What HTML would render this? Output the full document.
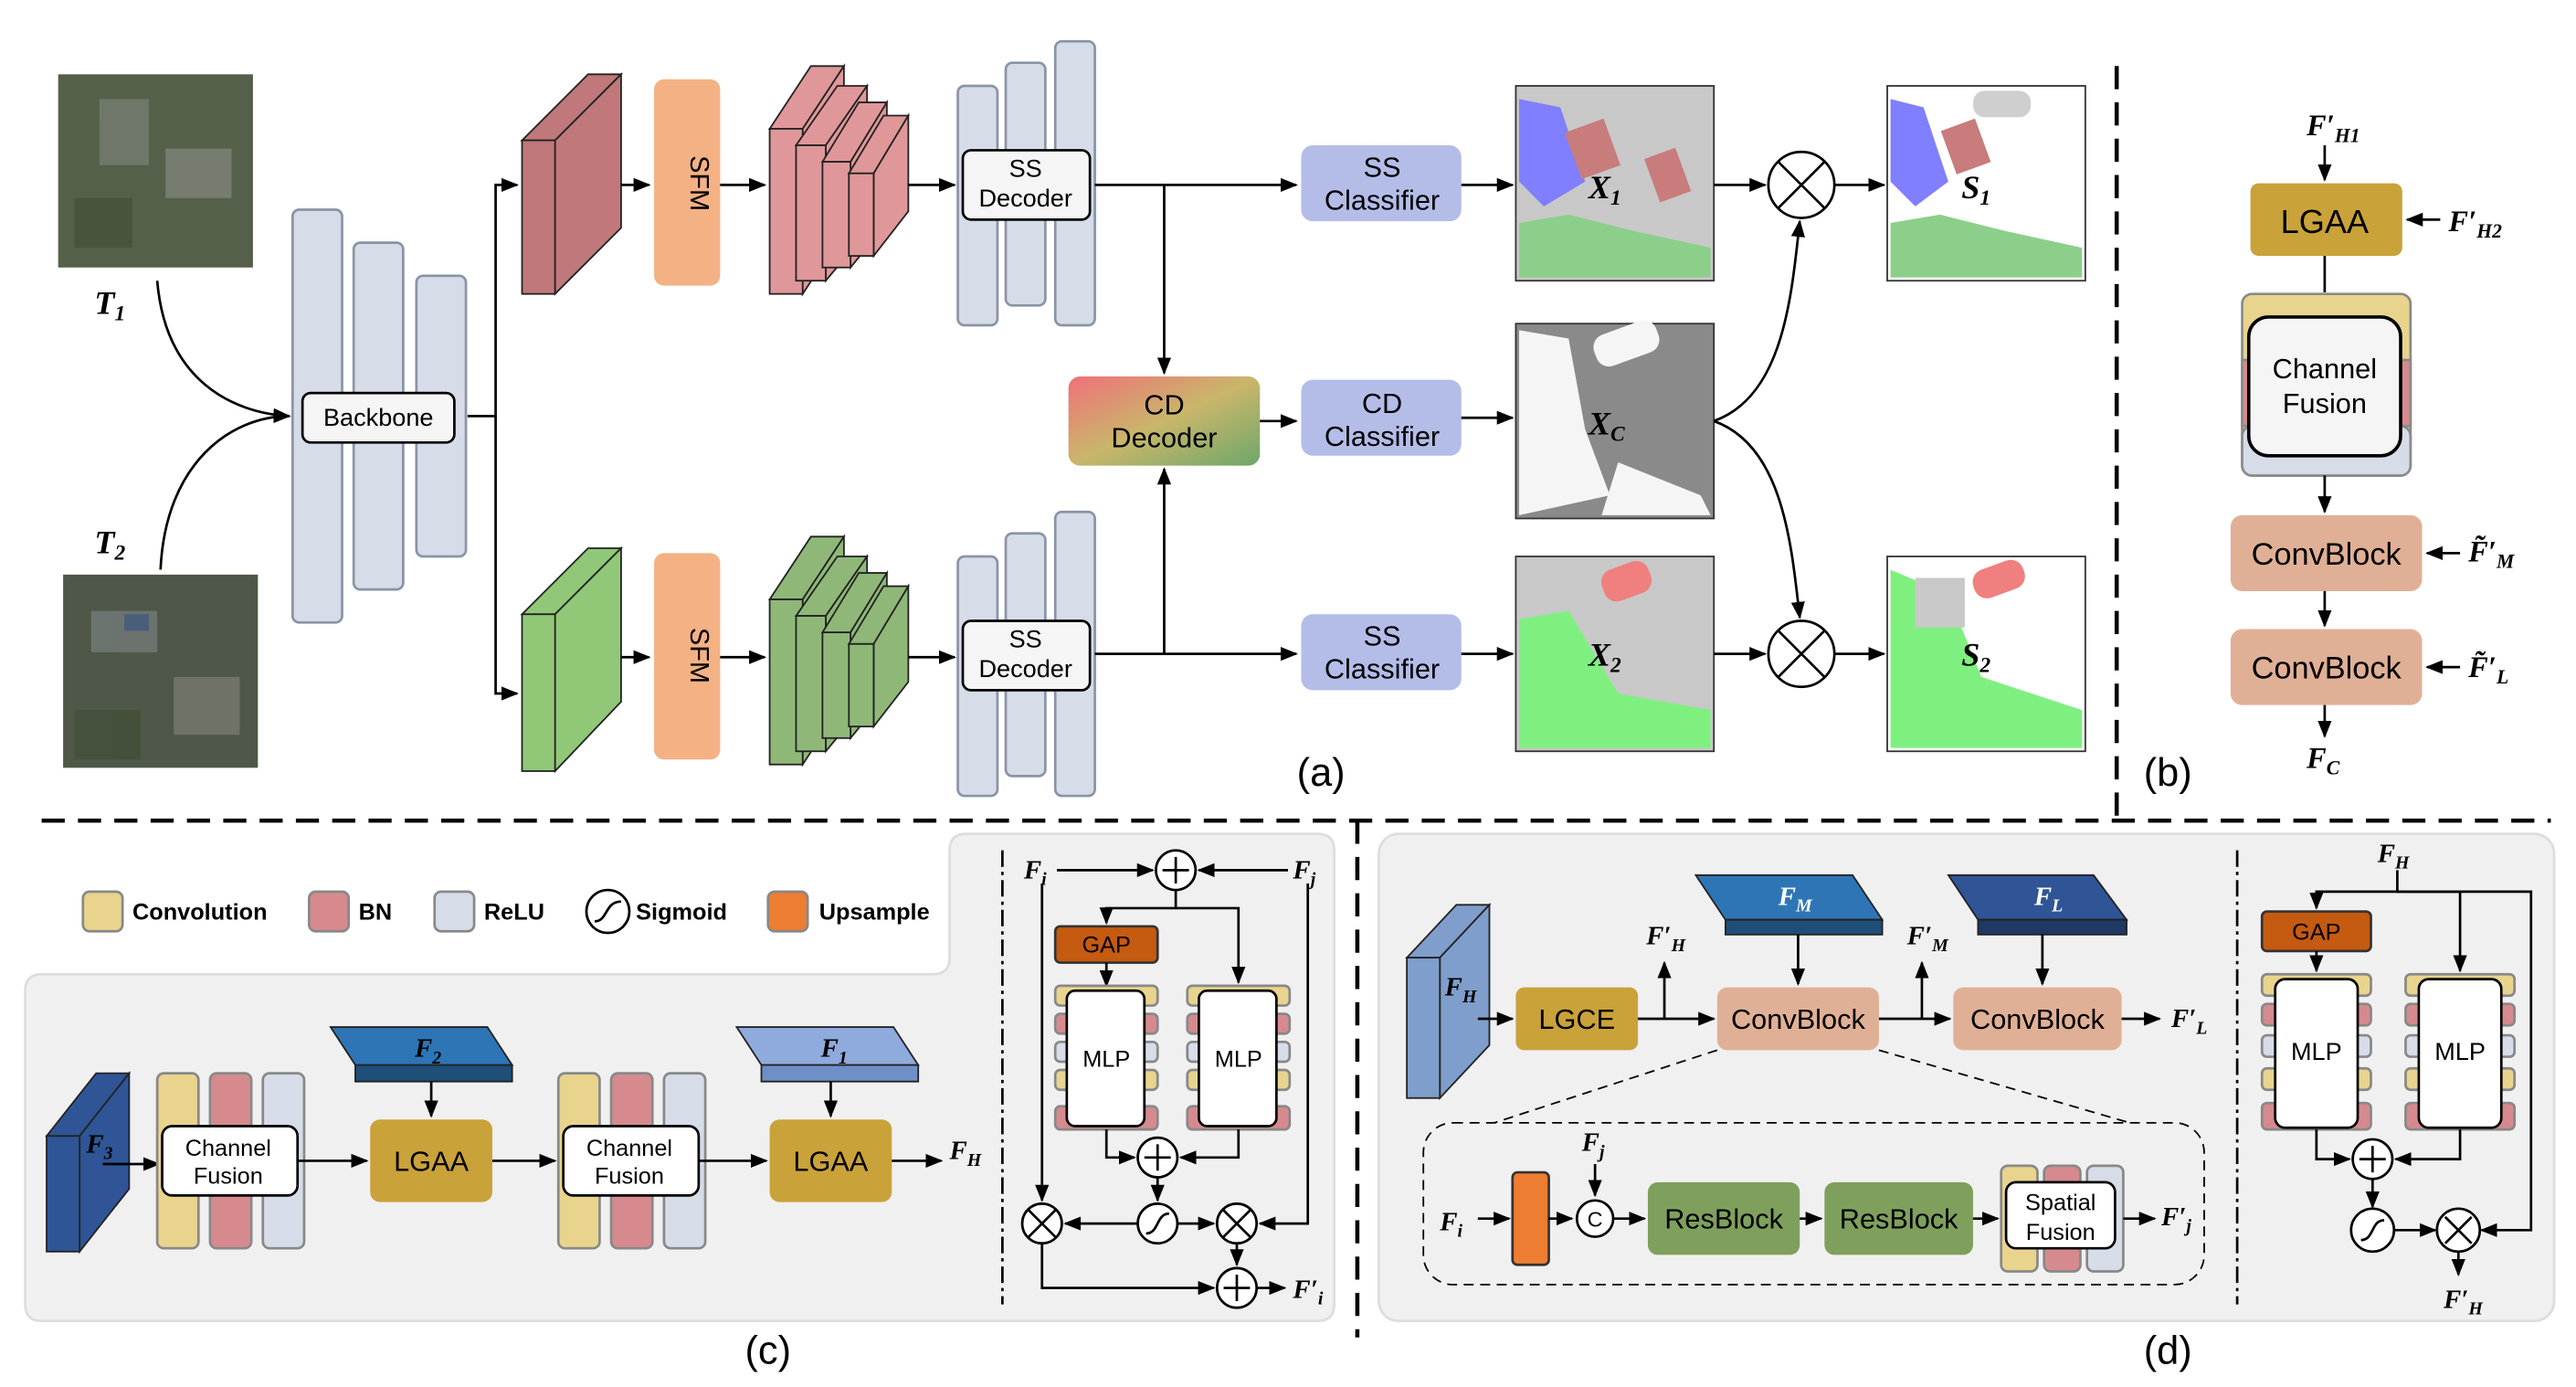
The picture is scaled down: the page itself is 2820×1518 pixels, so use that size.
<!DOCTYPE html>
<html><head><meta charset="utf-8"><style>
html,body{margin:0;padding:0;background:#fff;}
svg{display:block;}
text{font-family:"Liberation Sans",sans-serif;}
.m text{font-family:"Liberation Serif",serif;font-style:italic;font-weight:bold;}
</style></head><body>
<svg width="2820" height="1518" viewBox="0 0 1560 840" xmlns="http://www.w3.org/2000/svg">
<defs>
<marker id="a" viewBox="0 0 10 10" refX="9" refY="5" markerWidth="7" markerHeight="7" orient="auto"><path d="M0,1 L10,5 L0,9 z" fill="#000"/></marker>
<linearGradient id="cd" x1="0" y1="0" x2="1" y2="1"><stop offset="0" stop-color="#f0707a"/><stop offset="0.5" stop-color="#c9b66a"/><stop offset="1" stop-color="#6ea76a"/></linearGradient>
</defs>
<g stroke="#000" stroke-width="1.5" fill="none">
<rect x="35" y="45" width="118" height="117" fill="#55604a" stroke="none"/>
<rect x="38" y="348" width="118" height="117" fill="#4f5848" stroke="none"/>
<g stroke="none" opacity="0.5">
<rect x="60" y="60" width="30" height="40" fill="#8a8f86"/><rect x="100" y="90" width="40" height="30" fill="#9a9a92"/><rect x="45" y="120" width="35" height="30" fill="#3c4a30"/>
<rect x="55" y="370" width="40" height="25" fill="#8a8f96"/><rect x="75" y="372" width="15" height="10" fill="#4466aa"/><rect x="105" y="410" width="40" height="35" fill="#8f8f86"/><rect x="45" y="430" width="40" height="30" fill="#3c4a30"/>
</g>
<path d="M95,170 C100,230 140,250 175,252" marker-end="url(#a)"/>
<path d="M97,345 C100,280 140,252 175,252" marker-end="url(#a)"/>
<rect x="177" y="127" width="30" height="250" rx="4" fill="#d6dce8" stroke="#8a94a6"/>
<rect x="214" y="147" width="30" height="210" rx="4" fill="#d6dce8" stroke="#8a94a6"/>
<rect x="252" y="167" width="30" height="170" rx="4" fill="#d6dce8" stroke="#8a94a6"/>
<rect x="183" y="238" width="92" height="30" rx="5" fill="#f5f5f5"/>
<path d="M283,252 H300 V112 H313" marker-end="url(#a)"/>
<path d="M300,252 V420 H313" marker-end="url(#a)"/>
<g fill="#c0787a" stroke="#222" stroke-width="1">
<polygon points="316,85 356,45 376,45 336,85"/><polygon points="336,85 376,45 376,138 336,178"/><rect x="316" y="85" width="20" height="93"/>
</g>
<g fill="#90c878" stroke="#222" stroke-width="1">
<polygon points="316,372 356,332 376,332 336,372"/><polygon points="336,372 376,332 376,425 336,467"/><rect x="316" y="372" width="20" height="95"/>
</g>
<path d="M376,112 H393" marker-end="url(#a)"/><path d="M376,398 H393" marker-end="url(#a)"/>
<rect x="396" y="48" width="40" height="125" rx="6" fill="#f4b183" stroke="none"/>
<rect x="396" y="335" width="40" height="125" rx="6" fill="#f4b183" stroke="none"/>
<path d="M436,112 H463" marker-end="url(#a)"/><path d="M436,398 H463" marker-end="url(#a)"/>
<g fill="#e0979a" stroke="#222" stroke-width="1">
<polygon points="466,78 491,40 511,40 486,78"/><polygon points="486,78 511,40 511,140 486,178"/><rect x="466" y="78" width="20" height="100"/>
<polygon points="482,88 507,52 525,52 500,88"/><polygon points="500,88 525,52 525,140 500,170"/><rect x="482" y="88" width="18" height="82"/>
<polygon points="498,98 520,62 537,62 515,98"/><polygon points="515,98 537,62 537,135 515,162"/><rect x="498" y="98" width="17" height="64"/>
<polygon points="514,105 535,70 550,70 529,105"/><polygon points="529,105 550,70 550,128 529,155"/><rect x="514" y="105" width="15" height="50"/>
</g>
<g fill="#8fb878" stroke="#222" stroke-width="1">
<polygon points="466,363 491,325 511,325 486,363"/><polygon points="486,363 511,325 511,425 486,463"/><rect x="466" y="363" width="20" height="100"/>
<polygon points="482,373 507,337 525,337 500,373"/><polygon points="500,373 525,337 525,425 500,455"/><rect x="482" y="373" width="18" height="82"/>
<polygon points="498,383 520,347 537,347 515,383"/><polygon points="515,383 537,347 537,420 515,447"/><rect x="498" y="383" width="17" height="64"/>
<polygon points="514,390 535,355 550,355 529,390"/><polygon points="529,390 550,355 550,413 529,440"/><rect x="514" y="390" width="15" height="50"/>
</g>
<path d="M550,112 H578" marker-end="url(#a)"/><path d="M550,398 H578" marker-end="url(#a)"/>
<g fill="#d6dce8" stroke="#8a94a6">
<rect x="580" y="52" width="24" height="145" rx="4"/><rect x="609" y="38" width="24" height="147" rx="4"/><rect x="639" y="25" width="24" height="172" rx="4"/>
<rect x="580" y="337" width="24" height="145" rx="4"/><rect x="609" y="323" width="24" height="147" rx="4"/><rect x="639" y="310" width="24" height="172" rx="4"/>
</g>
<rect x="583" y="91" width="77" height="42" rx="5" fill="#f5f5f5"/>
<rect x="583" y="376" width="77" height="42" rx="5" fill="#f5f5f5"/>
<path d="M663,112 H785" marker-end="url(#a)"/><path d="M663,396 H785" marker-end="url(#a)"/>
<path d="M705,112 V226" marker-end="url(#a)"/><path d="M705,396 V284" marker-end="url(#a)"/>
<rect x="647" y="228" width="116" height="54" rx="7" fill="url(#cd)" stroke="none"/>
<path d="M763,255 H785" marker-end="url(#a)"/>
<g fill="#b4bde8" stroke="none">
<rect x="788" y="88" width="97" height="46" rx="7"/><rect x="788" y="230" width="97" height="46" rx="7"/><rect x="788" y="372" width="97" height="46" rx="7"/>
</g>
<path d="M885,112 H916" marker-end="url(#a)"/><path d="M885,253 H916" marker-end="url(#a)"/><path d="M885,396 H916" marker-end="url(#a)"/>
<g stroke="#333" stroke-width="1">
<rect x="918" y="52" width="120" height="118" fill="#c8c8c8"/>
<rect x="918" y="196" width="120" height="118" fill="#8a8a8a"/>
<rect x="918" y="337" width="120" height="118" fill="#c8c8c8"/>
<rect x="1143" y="52" width="120" height="118" fill="#fff"/>
<rect x="1143" y="337" width="120" height="118" fill="#fff"/>
</g>
<g stroke="none">
<polygon points="920,60 945,65 960,110 935,125 920,110" fill="#7f7fff"/>
<polygon points="920,135 950,130 990,140 1036,150 1036,168 920,168" fill="#8ccf8a"/>
<rect x="952" y="75" width="25" height="30" fill="#c87c7c" transform="rotate(-20 965 90)"/>
<rect x="1000" y="92" width="20" height="28" fill="#c87c7c" transform="rotate(-20 1010 106)"/>
<polygon points="920,200 950,205 960,260 975,300 920,312" fill="#f5f5f5"/>
<rect x="965" y="198" width="40" height="20" fill="#f5f5f5" rx="8" transform="rotate(-20 985 208)"/>
<polygon points="980,280 1030,300 1036,312 970,312" fill="#f5f5f5"/>
<polygon points="920,375 950,370 980,420 1036,430 1036,453 920,453" fill="#7ff07f"/>
<rect x="970" y="342" width="30" height="20" rx="8" fill="#f07f7f" transform="rotate(-20 985 352)"/>
<polygon points="1145,60 1165,65 1180,110 1160,125 1145,110" fill="#7f7fff"/>
<polygon points="1145,135 1175,130 1215,140 1261,150 1261,168 1145,168" fill="#8ccf8a"/>
<rect x="1180" y="75" width="22" height="28" fill="#c87c7c" transform="rotate(-20 1190 90)"/>
<rect x="1195" y="55" width="35" height="16" rx="7" fill="#cfcfcf"/>
<polygon points="1145,345 1180,360 1200,410 1261,430 1261,453 1145,453" fill="#7ff07f"/>
<rect x="1195" y="342" width="32" height="18" rx="8" fill="#f07f7f" transform="rotate(-20 1210 352)"/>
<rect x="1160" y="350" width="30" height="30" fill="#c8c8c8"/>
</g>
<circle cx="1091" cy="112" r="20" fill="#fff"/><circle cx="1091" cy="396" r="20" fill="#fff"/>
<path d="M1077,98 L1105,126 M1105,98 L1077,126 M1077,382 L1105,410 M1105,382 L1077,410"/>
<path d="M1038,112 H1069" marker-end="url(#a)"/><path d="M1111,112 H1141" marker-end="url(#a)"/>
<path d="M1038,396 H1069" marker-end="url(#a)"/><path d="M1111,396 H1141" marker-end="url(#a)"/>
<path d="M1038,255 C1080,240 1085,180 1090,134" marker-end="url(#a)"/>
<path d="M1038,255 C1080,270 1085,330 1090,374" marker-end="url(#a)"/>
<path d="M1282,40 V497 M25,497 H1545 M822,497 V810" stroke-dasharray="14,8" stroke-width="2.5"/>
<path d="M1408,88 V109" marker-end="url(#a)"/>
<rect x="1363" y="111" width="92" height="44" rx="5" fill="#c9a23a" stroke="none"/>
<path d="M1478,133 H1458" marker-end="url(#a)"/>
<path d="M1408,155 V177"/>
<rect x="1358" y="178" width="102" height="110" rx="6" fill="#e8d48c" stroke="#8a8a8a"/>
<rect x="1358" y="218" width="102" height="40" fill="#d68a8e" stroke="#8a8a8a"/>
<rect x="1358" y="258" width="102" height="30" rx="6" fill="#d6dce8" stroke="#8a8a8a"/>
<rect x="1362" y="192" width="92" height="84" rx="12" fill="#f5f5f5" stroke-width="2"/>
<path d="M1408,288 V310" marker-end="url(#a)"/>
<rect x="1351" y="312" width="116" height="46" rx="7" fill="#e0b096" stroke="none"/>
<path d="M1408,358 V379" marker-end="url(#a)"/>
<rect x="1351" y="381" width="116" height="46" rx="7" fill="#e0b096" stroke="none"/>
<path d="M1408,427 V446" marker-end="url(#a)"/>
<path d="M1490,335 H1470" marker-end="url(#a)"/><path d="M1490,404 H1470" marker-end="url(#a)"/>
<path d="M575,515 Q575,505 585,505 H798 Q808,505 808,515 V790 Q808,800 798,800 H25 Q15,800 15,790 V600 Q15,590 25,590 H565 Q575,590 575,580 Z" fill="#f0f0f0" stroke="#ddd"/>
<rect x="50" y="540" width="24" height="24" rx="4" fill="#e8d48c" stroke="#888"/>
<rect x="187" y="540" width="24" height="24" rx="4" fill="#d68a8e" stroke="#888"/>
<rect x="263" y="540" width="24" height="24" rx="4" fill="#d6dce8" stroke="#888"/>
<circle cx="368" cy="552" r="13" fill="#fff"/><path d="M360,558 C368,558 366,546 376,546"/>
<rect x="465" y="540" width="24" height="24" rx="4" fill="#ed7d31" stroke="#888"/>
<g fill="#2f5597" stroke="#222" stroke-width="1">
<polygon points="28,688 58,650 78,650 48,688"/><polygon points="48,688 78,650 78,720 48,758"/><rect x="28" y="688" width="20" height="70"/>
</g>
<path d="M62,705 H96" marker-end="url(#a)"/>
<g stroke="#888">
<rect x="95" y="650" width="25" height="106" rx="4" fill="#e8d48c"/><rect x="127" y="650" width="25" height="106" rx="4" fill="#d68a8e"/><rect x="159" y="650" width="25" height="106" rx="4" fill="#d6dce8"/>
<rect x="338" y="650" width="25" height="106" rx="4" fill="#e8d48c"/><rect x="370" y="650" width="25" height="106" rx="4" fill="#d68a8e"/><rect x="402" y="650" width="25" height="106" rx="4" fill="#d6dce8"/>
</g>
<rect x="98" y="682" width="82" height="42" rx="6" fill="#fff"/>
<rect x="341" y="682" width="82" height="42" rx="6" fill="#fff"/>
<g stroke="#222" stroke-width="1">
<polygon points="200,622 295,622 310,645 215,645" fill="#2e75b6"/><polygon points="215,645 310,645 310,655 215,655" fill="#1f4e79"/>
<polygon points="446,622 541,622 556,645 461,645" fill="#8faadc"/><polygon points="461,645 556,645 556,655 461,655" fill="#6f8fc8"/>
</g>
<path d="M261,655 V676" marker-end="url(#a)"/><path d="M503,655 V676" marker-end="url(#a)"/>
<rect x="224" y="678" width="74" height="50" rx="6" fill="#c9a23a" stroke="none"/>
<rect x="466" y="678" width="74" height="50" rx="6" fill="#c9a23a" stroke="none"/>
<path d="M180,703 H222" marker-end="url(#a)"/><path d="M298,703 H336" marker-end="url(#a)"/>
<path d="M423,703 H464" marker-end="url(#a)"/><path d="M540,703 H570" marker-end="url(#a)"/>
<path d="M607,515 V790" stroke-dasharray="10,3,2,3"/>
<circle cx="712" cy="527" r="12" fill="#fff"/><path d="M704,527 H720 M712,519 V535"/>
<path d="M640,527 H698" marker-end="url(#a)"/><path d="M780,527 H726" marker-end="url(#a)"/>
<path d="M712,539 V550 H670 V559" marker-end="url(#a)"/><path d="M712,550 H750 V595" marker-end="url(#a)"/>
<rect x="639" y="561" width="62" height="22" rx="3" fill="#c55a11" stroke="#333"/>
<path d="M670,583 V597" marker-end="url(#a)"/>
<g stroke="#888">
<rect x="639" y="597" width="62" height="12" rx="3" fill="#e8d48c"/><rect x="639" y="614" width="62" height="12" rx="3" fill="#d68a8e"/><rect x="639" y="631" width="62" height="12" rx="3" fill="#d6dce8"/><rect x="639" y="648" width="62" height="12" rx="3" fill="#e8d48c"/><rect x="639" y="670" width="62" height="14" rx="3" fill="#d68a8e"/>
<rect x="719" y="597" width="62" height="12" rx="3" fill="#e8d48c"/><rect x="719" y="614" width="62" height="12" rx="3" fill="#d68a8e"/><rect x="719" y="631" width="62" height="12" rx="3" fill="#d6dce8"/><rect x="719" y="648" width="62" height="12" rx="3" fill="#e8d48c"/><rect x="719" y="670" width="62" height="14" rx="3" fill="#d68a8e"/>
</g>
<rect x="646" y="600" width="47" height="82" rx="5" fill="#fff"/>
<rect x="726" y="600" width="47" height="82" rx="5" fill="#fff"/>
<path d="M670,684 V701 H687" marker-end="url(#a)"/><path d="M750,684 V701 H715" marker-end="url(#a)"/>
<circle cx="701" cy="701" r="12" fill="#fff"/><path d="M693,701 H709 M701,693 V709"/>
<path d="M701,713 V727" marker-end="url(#a)"/>
<circle cx="701" cy="741" r="12" fill="#fff"/><path d="M694,747 C702,747 700,735 708,735"/>
<circle cx="631" cy="741" r="12" fill="#fff"/><path d="M623,733 L639,749 M639,733 L623,749"/>
<circle cx="749" cy="741" r="12" fill="#fff"/><path d="M741,733 L757,749 M757,733 L741,749"/>
<path d="M689,741 H645" marker-end="url(#a)"/><path d="M713,741 H735" marker-end="url(#a)"/>
<path d="M631,535 V727" marker-end="url(#a)"/><path d="M792,535 V741 H763" marker-end="url(#a)"/>
<path d="M631,753 V780 H735" marker-end="url(#a)"/><path d="M749,753 V766" marker-end="url(#a)"/>
<circle cx="749" cy="780" r="12" fill="#fff"/><path d="M741,780 H757 M749,772 V788"/>
<path d="M761,780 H778" marker-end="url(#a)"/>
<rect x="835" y="505" width="712" height="295" rx="12" fill="#f0f0f0" stroke="#ddd"/>
<g fill="#7f9ecb" stroke="#222" stroke-width="1">
<polygon points="852,580 882,548 902,548 872,580"/><polygon points="872,580 902,548 902,633 872,665"/><rect x="852" y="580" width="20" height="85"/>
</g>
<path d="M895,617 H916" marker-end="url(#a)"/>
<rect x="918" y="598" width="74" height="38" rx="5" fill="#c9a23a" stroke="none"/>
<path d="M992,617 H1038" marker-end="url(#a)"/><path d="M1008,617 V583" marker-end="url(#a)"/>
<g stroke="#222" stroke-width="1">
<polygon points="1027,530 1122,530 1140,557 1045,557" fill="#2e75b6"/><polygon points="1045,557 1140,557 1140,566 1045,566" fill="#1f4e79"/>
<polygon points="1180,530 1268,530 1288,557 1198,557" fill="#2f5597"/><polygon points="1198,557 1288,557 1288,566 1198,566" fill="#1f3864"/>
</g>
<path d="M1089,566 V596" marker-end="url(#a)"/><path d="M1237,566 V596" marker-end="url(#a)"/>
<rect x="1040" y="598" width="98" height="38" rx="6" fill="#e0b096" stroke="none"/>
<rect x="1183" y="598" width="102" height="38" rx="6" fill="#e0b096" stroke="none"/>
<path d="M1138,617 H1181" marker-end="url(#a)"/><path d="M1164,617 V583" marker-end="url(#a)"/>
<path d="M1285,617 H1308" marker-end="url(#a)"/>
<path d="M1040,636 L905,680 M1138,636 L1290,680" stroke-dasharray="6,4" stroke-width="1"/>
<rect x="862" y="680" width="473" height="98" rx="18" fill="none" stroke-dasharray="6,4" stroke-width="1"/>
<path d="M895,738 H914" marker-end="url(#a)"/>
<rect x="916" y="710" width="22" height="56" rx="3" fill="#ed7d31" stroke="#333"/>
<path d="M938,738 H952" marker-end="url(#a)"/><path d="M966,705 V724" marker-end="url(#a)"/>
<circle cx="966" cy="738" r="11" fill="#fff"/>
<path d="M977,738 H996" marker-end="url(#a)"/>
<rect x="998" y="716" width="92" height="44" rx="6" fill="#7fa05c" stroke="none"/>
<path d="M1090,738 H1103" marker-end="url(#a)"/>
<rect x="1105" y="716" width="90" height="44" rx="6" fill="#7fa05c" stroke="none"/>
<path d="M1195,738 H1210" marker-end="url(#a)"/>
<g stroke="#888"><rect x="1212" y="706" width="22" height="64" rx="4" fill="#e8d48c"/><rect x="1238" y="706" width="22" height="64" rx="4" fill="#d68a8e"/><rect x="1264" y="706" width="22" height="64" rx="4" fill="#d6dce8"/></g>
<rect x="1215" y="716" width="66" height="40" rx="6" fill="#fff"/>
<path d="M1286,738 H1305" marker-end="url(#a)"/>
<path d="M1355,515 V790" stroke-dasharray="10,3,2,3"/>
<path d="M1452,527 V540 H1403 V550" marker-end="url(#a)"/><path d="M1452,540 H1490 V588" marker-end="url(#a)"/><path d="M1452,540 H1533 V745 H1503" marker-end="url(#a)"/>
<rect x="1370" y="552" width="66" height="24" rx="3" fill="#c55a11" stroke="#333"/>
<path d="M1403,576 V588" marker-end="url(#a)"/>
<g stroke="#888">
<rect x="1370" y="590" width="66" height="13" rx="3" fill="#e8d48c"/><rect x="1370" y="608" width="66" height="13" rx="3" fill="#d68a8e"/><rect x="1370" y="627" width="66" height="13" rx="3" fill="#d6dce8"/><rect x="1370" y="647" width="66" height="13" rx="3" fill="#e8d48c"/><rect x="1370" y="668" width="66" height="16" rx="3" fill="#d68a8e"/>
<rect x="1457" y="590" width="66" height="13" rx="3" fill="#e8d48c"/><rect x="1457" y="608" width="66" height="13" rx="3" fill="#d68a8e"/><rect x="1457" y="627" width="66" height="13" rx="3" fill="#d6dce8"/><rect x="1457" y="647" width="66" height="13" rx="3" fill="#e8d48c"/><rect x="1457" y="668" width="66" height="16" rx="3" fill="#d68a8e"/>
</g>
<rect x="1378" y="593" width="50" height="90" rx="6" fill="#fff"/>
<rect x="1465" y="593" width="50" height="90" rx="6" fill="#fff"/>
<path d="M1403,684 V702 H1423" marker-end="url(#a)"/><path d="M1490,684 V702 H1451" marker-end="url(#a)"/>
<circle cx="1437" cy="702" r="12" fill="#fff"/><path d="M1429,702 H1445 M1437,694 V710"/>
<path d="M1437,714 V731" marker-end="url(#a)"/>
<circle cx="1437" cy="745" r="13" fill="#fff"/><path d="M1430,751 C1438,751 1436,739 1444,739"/>
<path d="M1450,745 H1475" marker-end="url(#a)"/>
<circle cx="1489" cy="745" r="13" fill="#fff"/><path d="M1481,737 L1497,753 M1497,737 L1481,753"/>
<path d="M1489,758 V772" marker-end="url(#a)"/>
</g>
<g font-size="15" text-anchor="middle" fill="#000">
<text x="229" y="258">Backbone</text>
<text x="621" y="107">SS</text><text x="621" y="125">Decoder</text>
<text x="621" y="392">SS</text><text x="621" y="410">Decoder</text>
<text x="416" y="111" font-size="16" transform="rotate(90 416 111)" dy="-2">SFM</text>
<text x="416" y="397" font-size="16" transform="rotate(90 416 397)" dy="-2">SFM</text>
<g font-size="17"><text x="705" y="251">CD</text><text x="705" y="271">Decoder</text>
<text x="837" y="107">SS</text><text x="837" y="127">Classifier</text>
<text x="837" y="250">CD</text><text x="837" y="270">Classifier</text>
<text x="837" y="391">SS</text><text x="837" y="411">Classifier</text></g>
<text x="1408" y="141" font-size="20">LGAA</text>
<text x="1408" y="229" font-size="17">Channel</text><text x="1408" y="250" font-size="17">Fusion</text>
<text x="1409" y="342" font-size="19">ConvBlock</text><text x="1409" y="411" font-size="19">ConvBlock</text>
<text x="800" y="476" font-size="24">(a)</text><text x="1313" y="476" font-size="24">(b)</text>
<text x="465" y="826" font-size="24">(c)</text><text x="1313" y="826" font-size="24">(d)</text>
<text x="138" y="700" font-size="14">Channel</text><text x="138" y="717" font-size="14">Fusion</text>
<text x="381" y="700" font-size="14">Channel</text><text x="381" y="717" font-size="14">Fusion</text>
<text x="261" y="709" font-size="17">LGAA</text><text x="503" y="709" font-size="17">LGAA</text>
<text x="670" y="577" font-size="14">GAP</text>
<text x="670" y="646" font-size="14">MLP</text><text x="750" y="646" font-size="14">MLP</text>
<text x="955" y="623" font-size="17">LGCE</text>
<text x="1089" y="623" font-size="17">ConvBlock</text><text x="1234" y="623" font-size="17">ConvBlock</text>
<text x="966" y="743" font-size="13">C</text>
<text x="1044" y="744" font-size="17">ResBlock</text><text x="1150" y="744" font-size="17">ResBlock</text>
<text x="1248" y="733" font-size="14">Spatial</text><text x="1248" y="751" font-size="14">Fusion</text>
<text x="1403" y="569" font-size="14">GAP</text>
<text x="1403" y="642" font-size="15">MLP</text><text x="1490" y="642" font-size="15">MLP</text>
</g>
<g font-size="14" font-weight="bold">
<text x="80" y="557">Convolution</text><text x="217" y="557">BN</text><text x="293" y="557">ReLU</text>
<text x="385" y="557">Sigmoid</text><text x="496" y="557">Upsample</text>
</g>
<g class="m" font-size="20">
<text x="57" y="190">T<tspan font-size="13" dy="4">1</tspan></text>
<text x="57" y="335">T<tspan font-size="13" dy="4">2</tspan></text>
<text x="962" y="120">X<tspan font-size="13" dy="4">1</tspan></text>
<text x="962" y="263">X<tspan font-size="13" dy="4">C</tspan></text>
<text x="962" y="403">X<tspan font-size="13" dy="4">2</tspan></text>
<text x="1188" y="120">S<tspan font-size="13" dy="4">1</tspan></text>
<text x="1188" y="403">S<tspan font-size="13" dy="4">2</tspan></text>
<text x="1397" y="82" font-size="18">F′<tspan font-size="12" dy="4">H1</tspan></text>
<text x="1483" y="140" font-size="18">F′<tspan font-size="12" dy="4">H2</tspan></text>
<text x="1495" y="340" font-size="18">F̃′<tspan font-size="12" dy="4">M</tspan></text>
<text x="1495" y="410" font-size="18">F̃′<tspan font-size="12" dy="4">L</tspan></text>
<text x="1397" y="465" font-size="18">F<tspan font-size="12" dy="4">C</tspan></text>
<text x="52" y="698" font-size="16">F<tspan font-size="11" dy="4">3</tspan></text>
<text x="251" y="640" font-size="16">F<tspan font-size="11" dy="4">2</tspan></text>
<text x="497" y="640" font-size="16">F<tspan font-size="11" dy="4">1</tspan></text>
<text x="575" y="702" font-size="16">F<tspan font-size="11" dy="4">H</tspan></text>
<text x="620" y="532" font-size="16">F<tspan font-size="11" dy="4">i</tspan></text>
<text x="783" y="532" font-size="16">F<tspan font-size="11" dy="4">j</tspan></text>
<text x="783" y="786" font-size="16">F′<tspan font-size="11" dy="4">i</tspan></text>
<text x="875" y="603" font-size="16">F<tspan font-size="11" dy="4">H</tspan></text>
<text x="997" y="572" font-size="16">F′<tspan font-size="11" dy="4">H</tspan></text>
<text x="1077" y="548" font-size="16" fill="#fff">F<tspan font-size="11" dy="4">M</tspan></text>
<text x="1155" y="572" font-size="16">F′<tspan font-size="11" dy="4">M</tspan></text>
<text x="1232" y="548" font-size="16" fill="#fff">F<tspan font-size="11" dy="4">L</tspan></text>
<text x="1315" y="622" font-size="16">F′<tspan font-size="11" dy="4">L</tspan></text>
<text x="958" y="697" font-size="16">F<tspan font-size="11" dy="4">j</tspan></text>
<text x="872" y="745" font-size="16">F<tspan font-size="11" dy="4">i</tspan></text>
<text x="1309" y="742" font-size="16">F′<tspan font-size="11" dy="4">j</tspan></text>
<text x="1440" y="522" font-size="16">F<tspan font-size="11" dy="4">H</tspan></text>
<text x="1480" y="792" font-size="16">F′<tspan font-size="11" dy="4">H</tspan></text>
</g>
</svg>
</body></html>
